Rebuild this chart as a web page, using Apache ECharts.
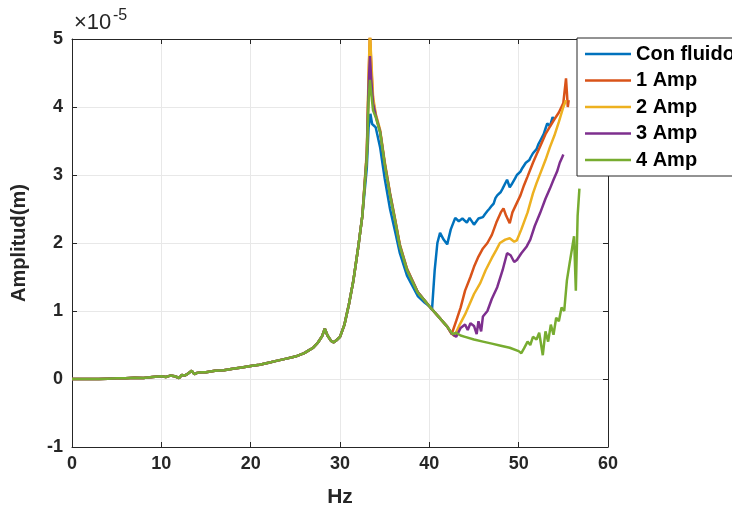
<!DOCTYPE html>
<html><head><meta charset="utf-8">
<script src="https://cdn.jsdelivr.net/npm/echarts@6/dist/echarts.min.js"></script>
<style>html,body{margin:0;padding:0;background:#fff}#c{width:732px;height:515px}</style>
</head><body><div id="c"></div>
<script>
// Values in units of 1e-5 m
const lowHz = [0,1,2,3,4,5,6,7,8,9,10,10.5,11,11.5,12,12.3,12.6,13,13.4,13.7,14,14.5,15,15.5,16,17,18,19,20,21,22,23,24,25,26,26.5,27,27.5,28,28.3,28.6,29,29.3,29.6,30,30.5,31,31.5,32,32.5];
const lowAmp = [0,0,0,0,0.005,0.01,0.01,0.02,0.015,0.03,0.04,0.03,0.05,0.04,0.015,0.06,0.05,0.08,0.12,0.07,0.09,0.1,0.1,0.11,0.12,0.13,0.15,0.17,0.19,0.21,0.24,0.27,0.3,0.33,0.38,0.42,0.46,0.53,0.63,0.74,0.64,0.56,0.54,0.57,0.62,0.8,1.1,1.45,1.9,2.4];

const conFluidoHz = [33,33.2,33.4,33.6,34,34.5,35,35.6,36.2,36.7,37.5,38.7,39.5,40,40.3,40.6,40.9,41.2,41.6,42,42.4,42.9,43.3,43.7,
  44.2,44.5,44.7,45,45.2,45.5,45.7,46,46.2,46.5,46.7,47,47.2,47.4,47.6,47.8,48,48.2,48.4,48.7,49,49.2,49.4,49.6,49.8,50,50.2,50.4,50.6,50.8,51,51.2,51.3,51.6,51.8,52,52.2,52.4,52.6,52.8,53,53.2,53.5,53.8,54];
const conFluidoAmp = [3.1,3.7,3.9,3.75,3.7,3.4,2.95,2.5,2.15,1.85,1.52,1.22,1.12,1.07,1.02,1.6,2.0,2.15,2.05,1.98,2.2,2.37,2.32,2.36,
  2.3,2.37,2.35,2.27,2.28,2.36,2.34,2.38,2.42,2.47,2.5,2.55,2.58,2.66,2.7,2.68,2.75,2.8,2.82,2.93,2.82,2.86,2.88,2.95,3.0,2.98,3.05,3.1,3.12,3.18,3.2,3.22,3.25,3.32,3.3,3.38,3.45,3.5,3.55,3.6,3.68,3.76,3.72,3.85,3.82];

const amp1Hz = [33,33.2,33.35,33.5,33.7,34,34.5,35,35.6,36.2,36.7,37.5,38.7,39.5,40,41,42,42.5,43,43.5,44,44.6,45,45.5,46,46.5,47,47.5,48,48.3,48.6,49,49.3,49.8,50.2,50.6,51,51.6,52,52.5,53,53.5,54,54.5,55,55.3,55.5,55.6];
const amp1Amp = [3.3,4.4,5.1,4.6,4.1,3.88,3.64,3.18,2.72,2.32,1.97,1.62,1.28,1.15,1.07,0.92,0.77,0.66,0.85,1.05,1.3,1.5,1.65,1.8,1.92,2.0,2.12,2.3,2.45,2.51,2.4,2.29,2.45,2.59,2.7,2.85,2.98,3.18,3.3,3.45,3.6,3.71,3.82,3.92,4.06,4.42,4.0,4.1];

const amp2Hz = [33,33.2,33.35,33.5,33.7,34,34.5,35,35.6,36.2,36.7,37.5,38.7,39.5,40,41,42,42.5,42.8,43.4,44,44.5,45,45.7,46.3,47,47.5,47.9,48.5,49,49.5,49.8,50.3,51,51.6,52,52.5,53,53.5,54,54.5,55,55.3];
const amp2Amp = [3.35,4.5,5.1,4.7,4.15,3.9,3.66,3.2,2.74,2.33,1.98,1.62,1.28,1.15,1.07,0.92,0.77,0.67,0.63,0.8,0.95,1.1,1.25,1.41,1.6,1.78,1.9,2.0,2.05,2.07,2.02,2.04,2.2,2.45,2.73,2.88,3.05,3.22,3.41,3.58,3.78,4.0,4.1];

const amp3Hz = [33,33.2,33.35,33.5,33.7,34,34.5,35,35.6,36.2,36.7,37.5,38.7,39.5,40,41,42,42.5,43,43.5,44,44.3,44.6,45,45.3,45.5,45.8,46,46.5,47,47.6,48.2,48.7,49.1,49.5,49.8,50.3,50.9,51.3,51.8,52.4,53,53.5,53.9,54.3,54.6,54.9,55];
const amp3Amp = [3.3,4.3,4.75,4.4,4.05,3.87,3.63,3.17,2.72,2.31,1.96,1.61,1.28,1.15,1.07,0.92,0.77,0.67,0.62,0.75,0.8,0.72,0.82,0.78,0.66,0.85,0.7,0.92,1.0,1.18,1.35,1.6,1.85,1.82,1.72,1.75,1.85,1.95,2.05,2.25,2.44,2.65,2.8,2.93,3.05,3.18,3.27,3.3];

const amp4Hz = [33,33.2,33.35,33.5,33.7,34,34.5,35,35.6,36.2,36.7,37.5,38.7,39.5,40,41,42,42.6,43,43.5,44,45,46,47,48,49,50,50.3,50.6,51,51.3,51.6,52,52.3,52.7,53,53.3,53.6,53.9,54.2,54.5,54.8,55.1,55.4,55.7,56,56.2,56.4,56.6,56.8];
const amp4Amp = [3.25,4.1,4.4,4.2,3.95,3.85,3.62,3.16,2.7,2.3,1.95,1.6,1.27,1.15,1.07,0.92,0.77,0.66,0.68,0.64,0.62,0.58,0.55,0.52,0.49,0.46,0.41,0.38,0.45,0.55,0.5,0.62,0.58,0.68,0.35,0.7,0.55,0.8,0.65,0.9,0.85,1.05,1.0,1.45,1.7,1.94,2.1,1.3,2.4,2.8];

const seriesNames = ['Con fluido','1 Amp','2 Amp','3 Amp','4 Amp'];
const seriesColors = ['#0072BD','#D95319','#EDB120','#7E2F8E','#77AC30'];
const xTicks = [0,10,20,30,40,50,60];
const yTicks = [-1,0,1,2,3,4,5];

const tails = [[conFluidoHz,conFluidoAmp],[amp1Hz,amp1Amp],[amp2Hz,amp2Amp],[amp3Hz,amp3Amp],[amp4Hz,amp4Amp]];
const zip = (hz, amp) => hz.map((h,i)=>[h, amp[i]]);

const FONT = "'Liberation Sans', Arial, sans-serif";
const AX = '#262626';

const chart = echarts.init(document.getElementById('c'), null, {renderer:'canvas'});
const axisCommon = {
  type:'value',
  axisLine:{show:true, onZero:false, lineStyle:{color:AX, width:1}},
  axisTick:{show:true, inside:true, length:5, lineStyle:{color:AX}},
};
chart.setOption({
  animation:false,
  backgroundColor:'#fff',
  grid:{left:72, right:124, top:39, bottom:68, containLabel:false},
  xAxis:[
    Object.assign({}, axisCommon, {
      min:xTicks[0], max:xTicks[xTicks.length-1], interval:10, position:'bottom',
      axisLabel:{color:AX, fontFamily:FONT, fontWeight:'bold', fontSize:18, margin:8},
      splitLine:{show:true, lineStyle:{color:'#e8e8e8', width:1}},
      name:'Hz', nameLocation:'middle', nameGap:40,
      nameTextStyle:{color:AX, fontFamily:FONT, fontWeight:'bold', fontSize:21}
    }),
    Object.assign({}, axisCommon, {
      min:xTicks[0], max:xTicks[xTicks.length-1], interval:10, position:'top',
      axisLabel:{show:false}, splitLine:{show:false}
    })
  ],
  yAxis:[
    Object.assign({}, axisCommon, {
      min:yTicks[0], max:yTicks[yTicks.length-1], interval:1, position:'left',
      axisLabel:{color:AX, fontFamily:FONT, fontWeight:'bold', fontSize:18, margin:9},
      splitLine:{show:true, lineStyle:{color:'#e8e8e8', width:1}},
      name:'Amplitud(m)', nameLocation:'middle', nameGap:43, nameRotate:90,
      nameTextStyle:{color:AX, fontFamily:FONT, fontWeight:'bold', fontSize:20}
    }),
    Object.assign({}, axisCommon, {
      min:yTicks[0], max:yTicks[yTicks.length-1], interval:1, position:'right',
      axisLabel:{show:false}, splitLine:{show:false}
    })
  ],
  legend:{
    orient:'vertical', left:577, top:38,
    backgroundColor:'#fff', borderColor:AX, borderWidth:1,
    padding:[6,40,6,8], itemWidth:46, itemHeight:2.5, itemGap:6.5,
    icon:'rect',
    textStyle:{color:'#000', fontFamily:FONT, fontWeight:'bold', fontSize:20, lineHeight:20},
    data:seriesNames
  },
  graphic:[
    {type:'text', left:74, top:12, style:{text:'\u00d710', fontFamily:FONT, fontSize:22, fill:AX}},
    {type:'text', left:113, top:8, style:{text:'-5', fontFamily:FONT, fontSize:16, fill:AX}}
  ],
  series: seriesNames.map((n,i)=>({
    name:n, type:'line', xAxisIndex:0, yAxisIndex:0,
    symbol:'none', clip:true,
    lineStyle:{color:seriesColors[i], width:2.5},
    itemStyle:{color:seriesColors[i]},
    data: zip(lowHz.concat(tails[i][0]), lowAmp.concat(tails[i][1]))
  }))
});
</script></body></html>
